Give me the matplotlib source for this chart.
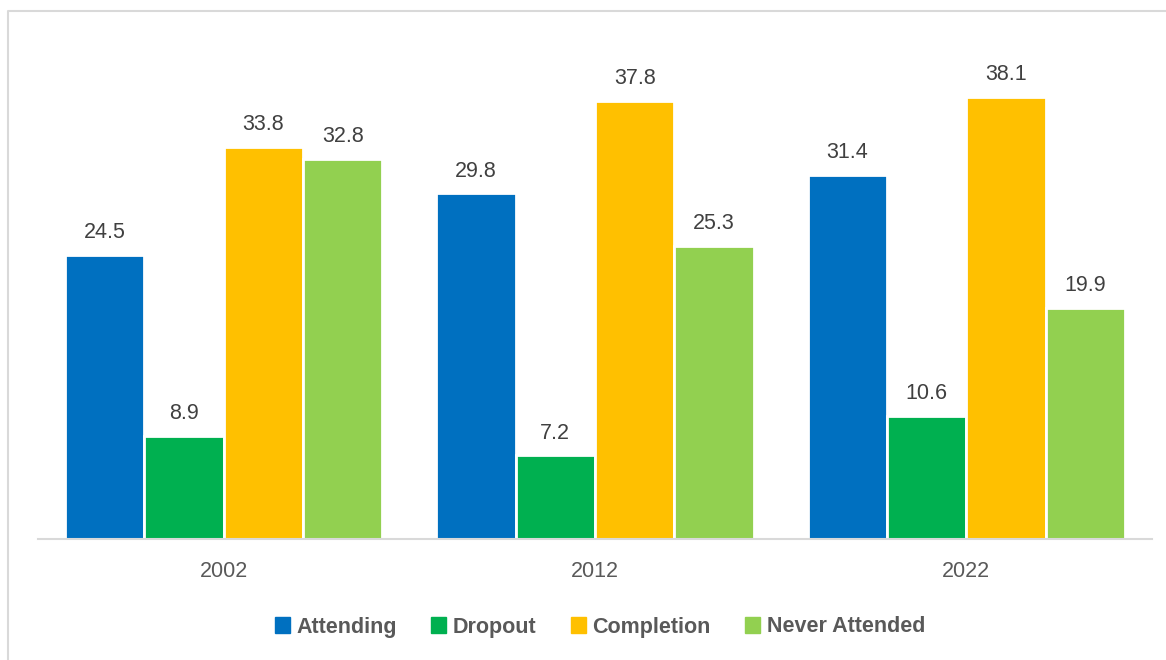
import numpy as np
import matplotlib
matplotlib.use("Agg")
import matplotlib.pyplot as plt
from matplotlib.lines import Line2D

plt.rcParams["font.family"] = ["Liberation Sans", "DejaVu Sans"]

# Data
years = ["2002", "2012", "2022"]
series = ["Attending", "Dropout", "Completion", "Never Attended"]
attending = [24.5, 29.8, 31.4]
dropout = [8.9, 7.2, 10.6]
completion = [33.8, 37.8, 38.1]
never_attended = [32.8, 25.3, 19.9]
colors = ["#0070C0", "#00B050", "#FFC000", "#92D050"]

W, H = 1166, 660
fig = plt.figure(figsize=(W / 100, H / 100), dpi=100)

# light grey frame around the chart area (left and top edges visible)
fig.add_artist(Line2D([8 / W, 8 / W, 1.0], [0.0, 1 - 11 / H, 1 - 11 / H],
                      color="#D9D9D9", linewidth=1.5, transform=fig.transFigure))

ax = fig.add_axes([38 / W, 1 - 539 / H, (1152 - 38) / W, (539 - 17) / H])

values = [attending, dropout, completion, never_attended]
x = np.arange(len(years))
width = 0.2137
for i, (name, vals, col) in enumerate(zip(series, values, colors)):
    pos = x + (i - 1.5) * width
    bars = ax.bar(pos, vals, width=width, color=col, edgecolor="white",
                  linewidth=2, label=name)
    for b, v in zip(bars, vals):
        ax.annotate(f"{v:.1f}", (b.get_x() + b.get_width() / 2, v),
                    xytext=(0, 12), textcoords="offset points",
                    ha="center", va="baseline", fontsize=15.5, color="#404040")

ax.set_xlim(-0.5, 2.5)
ax.set_ylim(0, 45)
ax.set_xticks(x)
ax.set_xticklabels(years, fontsize=15.5, color="#595959")
ax.tick_params(axis="x", length=0, pad=16)
ax.set_yticks([])
for s in ["top", "right", "left"]:
    ax.spines[s].set_visible(False)
ax.spines["bottom"].set_color("#D9D9D9")
ax.spines["bottom"].set_linewidth(1.5)

handles = [plt.Rectangle((0, 0), 1, 1, color=c) for c in colors]
leg = fig.legend(handles, series, loc="center", bbox_to_anchor=(600 / W, 1 - 627 / H),
                 ncol=4, frameon=False, handlelength=0.7, handleheight=0.7,
                 handletextpad=0.3, columnspacing=1.6,
                 prop={"size": 15.5, "weight": "bold"})
for t in leg.get_texts():
    t.set_color("#595959")

fig.savefig("out.png", dpi=100)
